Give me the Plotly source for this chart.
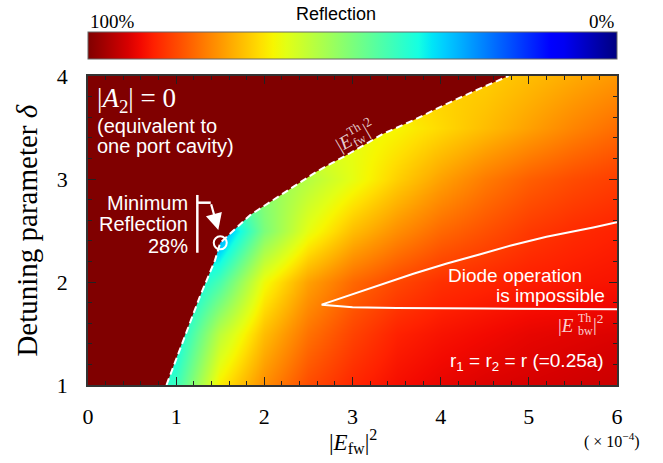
import math
import numpy as np
import plotly.graph_objects as go

# ---------------------------------------------------------------------------
# Reflection (%) of the forward wave over input power |E_fw|^2 (x1e-4)
# and detuning parameter delta
# ---------------------------------------------------------------------------
power_grid = [0, 0.5, 1, 1.5, 2, 2.5, 3, 3.5, 4, 4.5, 5, 5.5, 6]
delta_grid = [1, 1.5, 2, 2.5, 3, 3.5, 4]
reflection = [
    [34, 34, 42, 66, 76, 83, 87, 89.5, 91, 92, 92.5, 93, 93.5],
    [34, 34, 36, 58, 71, 79, 84, 87.5, 89, 90, 91, 91.5, 92],
    [30, 30, 30, 44, 64, 74, 80, 83.5, 86, 87, 88, 88.5, 89],
    [27, 27, 27, 27, 50, 63, 71, 76, 80, 82.5, 85, 86.5, 87.5],
    [50, 50, 50, 50, 52, 57, 63, 69, 74, 78, 81, 83, 84.5],
    [63, 63, 63, 63, 63, 63, 63, 65, 68, 71, 74, 77, 79.5],
    [69, 69, 69, 69, 69, 69, 69, 69, 69, 69, 71, 73, 75],
]

# Forward bistability threshold |E_fw^Th|^2 vs delta
fw_th_power = [0.89, 1.08, 1.27, 1.44, 1.50, 1.84, 2.215, 2.59, 2.97, 3.35,
               3.69, 4.07, 4.45, 4.77]
fw_th_delta = [1.0, 1.44, 1.86, 2.21, 2.38, 2.65, 2.86, 3.07, 3.25, 3.44,
               3.57, 3.73, 3.88, 4.0]

# Backward threshold |E_bw^Th|^2 (upper and lower branch)
bw_th_power = [6.0, 5.73, 5.20, 4.82, 4.45, 4.07, 3.69, 3.31, 2.65,
               3.0, 3.5, 4.5, 6.0]
bw_th_delta = [2.58, 2.53, 2.44, 2.36, 2.27, 2.18, 2.08, 1.97, 1.78,
               1.755, 1.748, 1.742, 1.735]

# Point of minimum reflection (28 %)
min_power = [1.50]
min_delta = [2.38]

x_ticks = [0, 1, 2, 3, 4, 5, 6]
y_ticks = [1, 2, 3, 4]

# ---------------------------------------------------------------------------
# jet colour map (dark blue -> dark red), reversed so that 100 % is dark red
# ---------------------------------------------------------------------------
red_seg = [(0, 0), (0.35, 0), (0.66, 1), (0.89, 1), (1, 0.5)]
green_seg = [(0, 0), (0.125, 0), (0.375, 1), (0.64, 1), (0.91, 0), (1, 0)]
blue_seg = [(0, 0.5), (0.11, 1), (0.34, 1), (0.65, 0), (1, 0)]


def channel(seg, t):
    xs, vs = zip(*seg)
    return float(np.interp(t, xs, vs))


stops = np.linspace(0, 1, 41)
jet = [[float(t), "rgb(%d,%d,%d)" % (round(255 * channel(red_seg, t)),
                                   round(255 * channel(green_seg, t)),
                                   round(255 * channel(blue_seg, t)))]
       for t in stops]
# colour axis runs 100 % (left, dark red) -> 0 % (right, dark blue)
jet_rev = [[1 - t, c] for t, c in reversed(jet)]
full_refl_color = jet[-1][1]

z_plot = [[100 - v for v in row] for row in reflection]

SERIF = "Times New Roman, Liberation Serif, serif"
SANS = "Arial, Liberation Sans, sans-serif"

# plot area in pixels (used to place free text)
PX_L, PX_R, PX_T, PX_B = 88, 617, 76, 385


def px_to_data(px, py):
    return ((px - PX_L) / (PX_R - PX_L) * 6.0,
            4.0 - (py - PX_T) / (PX_B - PX_T) * 3.0)


fig = go.Figure()

fig.add_trace(go.Heatmap(
    x=power_grid, y=delta_grid, z=z_plot, zsmooth="best",
    zmin=0, zmax=100, colorscale=jet_rev, hoverinfo="skip",
    colorbar=dict(
        orientation="h", x=0.5, xanchor="center", y=1.052, yanchor="bottom",
        len=1, lenmode="fraction", thickness=27, xpad=0, ypad=0,
        outlinewidth=1, outlinecolor="#666", showticklabels=False, ticks="",
    ),
))

# Region with 100 % reflection (below forward threshold)
fig.add_trace(go.Scatter(
    x=[0] + fw_th_power + [0], y=[1] + fw_th_delta + [4],
    fill="toself", fillcolor=full_refl_color, mode="none",
    hoverinfo="skip", showlegend=False,
))

fig.add_trace(go.Scatter(
    x=fw_th_power, y=fw_th_delta, mode="lines",
    line=dict(color="white", width=2, dash="7px,4px"),
    hoverinfo="skip", showlegend=False,
))

fig.add_trace(go.Scatter(
    x=bw_th_power, y=bw_th_delta, mode="lines",
    line=dict(color="white", width=2),
    hoverinfo="skip", showlegend=False,
))

fig.add_trace(go.Scatter(
    x=min_power, y=min_delta, mode="markers",
    marker=dict(symbol="circle-open", size=13, color="white",
                line=dict(width=2, color="white")),
    hoverinfo="skip", showlegend=False,
))

# Bracket + arrow pointing at the minimum
line_style = dict(color="white", width=2.5)
fig.add_shape(type="line", xref="x", yref="y", x0=1.24, x1=1.24,
              y0=2.845, y1=2.284, line=line_style)
fig.add_shape(type="line", xref="x", yref="y", x0=1.24, x1=1.392,
              y0=2.77, y1=2.77, line=line_style)
fig.add_annotation(x=1.478, y=2.505, ax=1.392, ay=2.77, axref="x", ayref="y",
                   xref="x", yref="y", text="", showarrow=True,
                   arrowhead=2, arrowsize=1.5, arrowwidth=2.2,
                   arrowcolor="white")

white_sans = dict(family=SANS, size=20, color="white")


def text_at(x, y, text, xanchor="left", font=None, **kw):
    fig.add_annotation(x=x, y=y, xref="x", yref="y", text=text,
                       showarrow=False, xanchor=xanchor, yanchor="middle",
                       font=font or white_sans, **kw)


def text_px(px, py, text, font, xanchor="center", angle=0):
    x, y = px_to_data(px, py)
    text_at(x, y, text, xanchor=xanchor, font=font, textangle=angle)


text_at(0.08, 3.77, "|<i>A</i><sub>2</sub>| = 0",
        font=dict(family=SERIF, size=27, color="white"))
text_at(0.08, 3.515, "(equivalent to")
text_at(0.08, 3.325, "one port cavity)")
text_at(1.155, 2.767, "Minimum", xanchor="right")
text_at(1.155, 2.563, "Reflection", xanchor="right")
text_at(1.155, 2.35, "28%", xanchor="right")

diode_font = dict(family=SANS, size=19, color="white")
text_at(5.63, 2.068, "Diode operation", xanchor="right", font=diode_font)
text_at(5.89, 1.867, "is impossible", xanchor="right", font=diode_font)
text_at(5.87, 1.226, "r<sub>1</sub> = r<sub>2</sub> = r (=0.25a)",
        xanchor="right", font=diode_font)

# Threshold labels with stacked super/subscripts
lbl_color = "rgba(255,255,255,0.82)"
big = dict(family=SERIF, size=19, color=lbl_color)
small = dict(family=SERIF, size=12, color=lbl_color)

# |E^Th_bw|^2
text_px(556, 325, "|<i>E</i>", big, xanchor="left")
text_px(576, 318, "Th", small, xanchor="left")
text_px(576, 331, "bw", small, xanchor="left")
text_px(591, 323, "|<sup>2</sup>", big, xanchor="left")

# |E^Th_fw|^2, rotated along the threshold curve
ang = math.radians(30)
ux, uy = math.cos(ang), -math.sin(ang)      # along the text baseline
vx, vy = -math.sin(ang), -math.cos(ang)     # towards the top of the text
ox, oy = 344, 142                           # centre of the "|E" glyphs
for du, dv, txt, fnt in [(0, 0, "|<i>E</i>", big),
                         (15, 6, "Th", small),
                         (15, -6, "fw", small),
                         (28, 1, "|<sup>2</sup>", big)]:
    text_px(ox + du * ux + dv * vx, oy + du * uy + dv * vy, txt, fnt,
            angle=-30)

# Colour bar captions
fig.add_annotation(x=0.468, y=1.2006, xref="paper", yref="paper",
                   text="Reflection", showarrow=False, yanchor="middle",
                   font=dict(family=SANS, size=18, color="black"))
fig.add_annotation(x=0, y=1.136, xref="paper", yref="paper", text="100%",
                   showarrow=False, xanchor="left", yanchor="bottom",
                   font=dict(family=SERIF, size=19, color="black"))
fig.add_annotation(x=1, y=1.136, xref="paper", yref="paper", text="0%",
                   showarrow=False, xanchor="right", yanchor="bottom",
                   font=dict(family=SERIF, size=19, color="black"))

# Axis titles and scale factor
fig.add_annotation(x=0.501, y=-0.183, xref="paper", yref="paper",
                   text="|<i>E</i><sub>fw</sub>|<sup>2</sup>",
                   showarrow=False, yanchor="middle",
                   font=dict(family=SERIF, size=23, color="black"))
fig.add_annotation(x=-0.117, y=0.50, xref="paper", yref="paper",
                   text="Detuning parameter <i>δ</i>", textangle=-90,
                   showarrow=False, xanchor="center", yanchor="middle",
                   font=dict(family=SERIF, size=29, color="black"))
fig.add_annotation(x=0.934, y=-0.178, xref="paper", yref="paper",
                   text="( × 10<sup>−4</sup>)", showarrow=False,
                   xanchor="left", yanchor="middle",
                   font=dict(family=SERIF, size=16, color="black"))

axis_common = dict(
    showline=True, linecolor="#333", linewidth=1.5, mirror="allticks",
    ticks="inside", ticklen=8, tickwidth=1, tickcolor="#222",
    showgrid=False, zeroline=False,
    tickfont=dict(family=SERIF, size=22, color="black"),
)

fig.update_xaxes(range=[0, 6], tickvals=x_ticks, ticklabelstandoff=11,
                 minor=dict(dtick=0.2, ticks="inside", ticklen=4,
                            tickcolor="#222", showgrid=False),
                 **axis_common)
fig.update_yaxes(range=[1, 4], tickvals=y_ticks, ticklabelstandoff=14,
                 minor=dict(dtick=0.2, ticks="inside", ticklen=4,
                            tickcolor="#222", showgrid=False),
                 **axis_common)

fig.update_layout(
    width=663, height=463,
    margin=dict(l=PX_L, r=663 - PX_R, t=PX_T, b=463 - PX_B),
    paper_bgcolor="white", plot_bgcolor="white",
    showlegend=False,
)

fig.write_html("out.html")
